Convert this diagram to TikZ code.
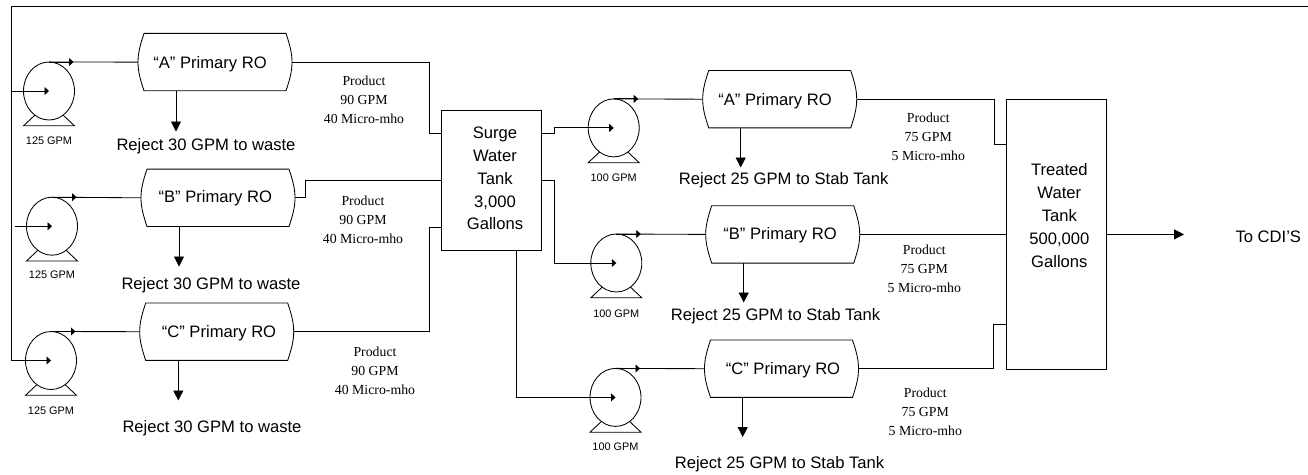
\documentclass[tikz,border=0pt]{standalone}
\usepackage{fontspec}
\setmainfont{Liberation Sans}
\newfontfamily\serifx{Liberation Serif}
\usetikzlibrary{arrows.meta,shapes.geometric}
\tikzset{
  pipe/.style={line width=0.85pt,black},
  smalltip/.style={pipe,-{Triangle[length=4.5pt,width=8pt]}},
  bigtip/.style={pipe,-{Triangle[length=10pt,width=10pt]}},
  pumpbody/.style={ellipse,draw,line width=0.85pt,minimum width=51pt,minimum height=58pt,inner sep=0pt,outer sep=0pt},
  robody/.style={rectangle,minimum width=154pt,minimum height=57.4pt,inner sep=0pt,outer sep=0pt},
  tankbox/.style={rectangle,draw,line width=0.85pt,inner sep=0pt,outer sep=0pt},
  bigtext/.style={font=\fontsize{16.6}{22.8}\selectfont,align=center,inner sep=0pt},
  bigone/.style={bigtext,yshift=-1.6pt},
  smalltext/.style={font=\fontsize{10.9}{13}\selectfont,align=center,inner sep=0pt},
  prodtext/.style={font=\serifx\fontsize{13.8}{19}\selectfont,align=center,inner sep=0pt,yshift=-0.8pt}
}
% name, centre of body, centre of text, text
\newcommand{\rounit}[4]{%
  \node[robody] (#1) at #2 {};
  \draw[pipe] ([xshift=6pt]#1.north west) -- ([xshift=-6pt]#1.north east)
    .. controls ([xshift=-2pt,yshift=-12pt]#1.north east) and ([yshift=9pt]#1.east) .. (#1.east)
    .. controls ([yshift=-9pt]#1.east) and ([xshift=-2pt,yshift=12pt]#1.south east) .. ([xshift=-6pt]#1.south east)
    -- ([xshift=6pt]#1.south west)
    .. controls ([xshift=2pt,yshift=12pt]#1.south west) and ([yshift=-9pt]#1.west) .. (#1.west)
    .. controls ([yshift=9pt]#1.west) and ([xshift=2pt,yshift=-12pt]#1.north west) .. ([xshift=6pt]#1.north west) -- cycle;
  \node[bigone] (#1t) at #3 {#4};
}
% name, centre, label, y of label
\newcommand{\pumpunit}[4]{%
  \node[pumpbody] (#1) at #2 {};
  \draw[pipe] ([xshift=-14pt,yshift=-24pt]#1.center) -- ([xshift=-25.5pt,yshift=-34.8pt]#1.center)
     -- ([xshift=25.5pt,yshift=-34.8pt]#1.center) -- ([xshift=14pt,yshift=-24pt]#1.center);
  \node[smalltext] (#1l) at ([yshift=-#4pt]#1.center) {#3};
}
\begin{document}
\begin{tikzpicture}[x=1pt,y=-1pt]
\useasboundingbox (0,0) rectangle (1308,474);
\fill[white] (0,0) rectangle (1308,474);

% RO units
\rounit{aA}{(215,62.1)}{(210,62.7)}{“A” Primary RO}
\rounit{aB}{(218,197.8)}{(215.3,197)}{“B” Primary RO}
\rounit{aC}{(216.7,331.7)}{(219,331.4)}{“C” Primary RO}
\rounit{bA}{(779.7,99.2)}{(775,99.5)}{“A” Primary RO}
\rounit{bB}{(782.7,234.4)}{(780,233.8)}{“B” Primary RO}
\rounit{bC}{(781.5,368.7)}{(783,368.8)}{“C” Primary RO}

% pumps
\pumpunit{pA}{(49,91)}{125 GPM}{50}
\pumpunit{pB}{(52,226.2)}{125 GPM}{49}
\pumpunit{pC}{(51,360.5)}{125 GPM}{49.8}
\pumpunit{qA}{(613.7,127.9)}{100 GPM}{50.3}
\pumpunit{qB}{(616.3,263)}{100 GPM}{50.3}
\pumpunit{qC}{(615.5,397.4)}{100 GPM}{49}

% tanks
\node[tankbox,minimum width=100pt,minimum height=139.6pt] (surge) at (491.7,180.5) {};
\node[bigtext] (surget) at (495,178.6) {Surge\\Water\\Tank\\3,000\\Gallons};
\node[tankbox,minimum width=100pt,minimum height=270.7pt] (treated) at (1056,234.35) {};
\node[bigtext] (treatedt) at (1059.3,215.5) {Treated\\Water\\Tank\\500,000\\Gallons};

% outer feed line
\coordinate (topright) at (1308,6);
\draw[pipe] (topright) -- (11.5,6) -- (11.5,360.5) -- (pC.center);
\draw[smalltip] (11.5,360.5) -- (pC.center);
\draw[smalltip] (11.5,91) -- (pA.center);
\draw[smalltip] (15,226.2) -- (pB.center);

% pump outlets
\foreach \p/\r in {pA/aA,pB/aB,pC/aC,qA/bA,qB/bB,qC/bC}{
  \draw[pipe] (\p.north) -- (\r.west);
  \draw[smalltip] (\p.north) -- ([xshift=24.5pt]\p.north);
}

% product lines to surge tank
\draw[pipe] (aA.east) -- (429,62.1) -- (429,133.5) -- (surge.west |- 0,133.5);
\draw[pipe] (aB.east) -- (305,197.8) -- (305,180.7) -- (surge.west |- 0,180.7);
\draw[pipe] (aC.east) -- (429,331.7) -- (429,227.7) -- (surge.west |- 0,227.7);

% surge tank to pumps
\draw[smalltip] (surge.east |- 0,133.7) -- (554.3,133.7) -- (554.3,127.9) -- (qA.center);
\draw[smalltip] (surge.east |- 0,180.7) -- (554.3,180.7) -- (554.3,263) -- (qB.center);
\draw[smalltip] (surge.south -| 516.7,0) -- (516.7,397.4) -- (qC.center);

% product lines to treated tank
\draw[pipe] (bA.east) -- (994,99.2) -- (994,144.3) -- (treated.west |- 0,144.3);
\draw[pipe] (bB.east) -- (treated.west |- bB.east);
\draw[pipe] (bC.east) -- (993.7,368.7) -- (993.7,324.3) -- (treated.west |- 0,324.3);

% rejects
\coordinate (rjA) at (176,131.5);
\coordinate (rjB) at (179,266.5);
\coordinate (rjC) at (178.3,400.5);
\coordinate (rjD) at (740.7,167.5);
\coordinate (rjE) at (743.7,302.5);
\coordinate (rjF) at (742.7,437);
\draw[bigtip] (aA.south -| rjA) -- (rjA);
\draw[bigtip] (aB.south -| rjB) -- (rjB);
\draw[bigtip] (aC.south -| rjC) -- (rjC);
\draw[bigtip] (bA.south -| rjD) -- (rjD);
\draw[bigtip] (bB.south -| rjE) -- (rjE);
\draw[bigtip] (bC.south -| rjF) -- (rjF);
\node[bigone] (tA) at (206,144.8) {Reject 30 GPM to waste};
\node[bigone] (tB) at (211,284) {Reject 30 GPM to waste};
\node[bigone] (tC) at (212,426.5) {Reject 30 GPM to waste};
\node[bigone] (tD) at (783.7,179) {Reject 25 GPM to Stab Tank};
\node[bigone] (tE) at (775.5,314.5) {Reject 25 GPM to Stab Tank};
\node[bigone] (tF) at (779.5,463) {Reject 25 GPM to Stab Tank};

% product labels
\node[prodtext] (lA) at (364,99) {Product\\90 GPM\\40 Micro-mho};
\node[prodtext] (lB) at (363,219) {Product\\90 GPM\\40 Micro-mho};
\node[prodtext] (lC) at (375,370) {Product\\90 GPM\\40 Micro-mho};
\node[prodtext] (lD) at (928.3,135.8) {Product\\75 GPM\\5 Micro-mho};
\node[prodtext] (lE) at (924.3,268) {Product\\75 GPM\\5 Micro-mho};
\node[prodtext] (lF) at (925.3,410.8) {Product\\75 GPM\\5 Micro-mho};

% output
\coordinate (outtip) at (1184,234.4);
\draw[bigtip] (treated.east |- outtip) -- (outtip);
\node[bigtext] (cdi) at (1268.3,236.5) {To CDI’S};
\end{tikzpicture}
\end{document}
